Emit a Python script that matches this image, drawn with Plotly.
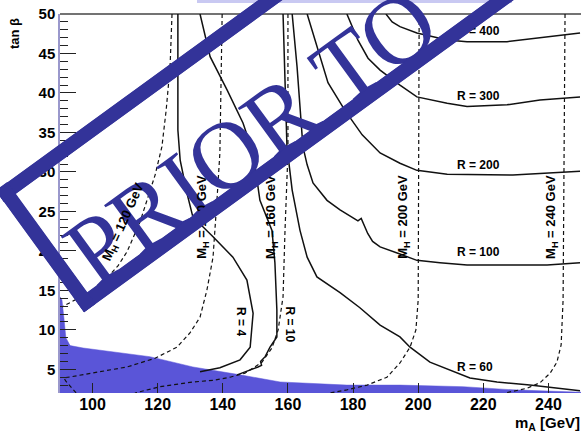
import math
import plotly.graph_objects as go

# ---------------------------------------------------------------- canvas
W, H = 583, 437
FRAME_L, FRAME_R, FRAME_T, FRAME_B = 60, 581, 14, 393   # plot frame on the page (px)

X_RANGE = [90, 250]
Y_RANGE = [2, 50]

# ---------------------------------------------------------------- data
# Excluded region (lower boundary of the allowed tan(beta) range)
excl_ma = [90.0, 90.6, 91.2, 91.8, 93.1, 97.1, 117.6, 130.8, 145.3, 157.6,
           178.1, 194.4, 213.8, 229.1, 250.0]
excl_tb = [14.2, 13.8, 11.5, 9.0, 8.0, 7.7, 6.6, 5.3, 4.3, 3.4,
           3.0, 3.0, 2.8, 2.4, 2.1]

# Contours of the ratio R
r4_ma = [126.2, 126.2, 126.9, 129.0, 130.8, 137.0, 143.1, 147.4, 149.3, 148.4, 145.3, 139.1, 133.0]
r4_tb = [50.0, 35.3, 31.5, 27.3, 24.3, 21.8, 19.2, 16.3, 12.1, 7.8, 6.2, 5.2, 4.7]

r10_ma = [133.0, 136.1, 141.3, 146.2, 149.3, 151.4, 155.1, 156.0, 156.6, 156.6, 154.5, 153.0, 151.6, 151.9, 150.8, 144.4]
r10_tb = [50.0, 44.6, 40.4, 36.2, 32.4, 26.4, 22.6, 18.5, 12.5, 9.1, 7.8, 6.6, 6.0, 5.5, 5.3, 4.3]

r60_ma = [158.5, 159.1, 159.7, 161.3, 163.7, 165.9, 168.9, 176.0, 182.1, 188.3, 194.4, 197.5, 203.6, 215.9, 224.2, 234.3, 249.7]
r60_tb = [50.0, 41.6, 33.2, 27.7, 22.6, 19.2, 16.7, 14.7, 12.8, 10.6, 9.1, 7.8, 5.9, 3.9, 3.4, 3.0, 2.3]

r100_ma = [161.3, 162.8, 164.6, 165.9, 167.7, 172.0, 176.0, 179.4, 181.5, 182.5, 183.2, 184.5, 186.0, 188.3, 194.4, 199.6, 206.7, 215.0, 239.6, 249.7]
r100_tb = [50.0, 43.3, 33.2, 30.9, 28.6, 26.4, 25.2, 24.3, 23.8, 24.1, 23.4, 22.2, 21.2, 20.5, 19.6, 18.8, 18.5, 18.2, 18.2, 18.5]

r200_ma = [165.9, 169.2, 172.3, 177.5, 182.8, 188.3, 194.4, 199.6, 208.9, 229.1, 239.6, 249.7]
r200_tb = [50.0, 45.4, 41.3, 37.8, 34.7, 32.4, 31.1, 30.2, 29.7, 29.6, 29.9, 30.1]

r300_ma = [178.1, 181.5, 184.6, 188.3, 194.4, 199.6, 208.9, 215.0, 227.3, 237.4, 249.7]
r300_tb = [50.0, 46.7, 44.4, 42.9, 41.0, 39.5, 38.7, 38.3, 38.5, 39.1, 39.5]

r400_ma = [190.1, 192.0, 194.4, 199.6, 208.9, 215.0, 227.3, 237.4, 249.7]
r400_tb = [50.0, 49.0, 48.4, 47.6, 46.7, 46.5, 46.5, 47.0, 47.6]

# Contours of the heavy Higgs mass M_H
mh120_ma = [124.4, 123.8, 122.6, 121.3, 119.2, 116.7, 114.6, 112.4, 110.6, 107.8, 103.8, 99.2, 94.6, 90.6]
mh120_tb = [50.0, 43.3, 37.8, 33.2, 29.6, 26.5, 23.7, 21.6, 19.9, 18.1, 16.3, 14.8, 13.8, 12.9]

mh140_ma = [139.8, 139.4, 139.1, 138.2, 137.0, 135.1, 133.0, 129.9, 125.9, 119.2, 110.6, 102.3, 97.1, 91.2, 91.8, 93.5, 95.0]
mh140_tb = [50.0, 39.1, 32.4, 26.4, 19.2, 15.0, 11.6, 9.6, 7.8, 6.4, 5.3, 4.7, 4.3, 3.9, 3.5, 2.7, 2.0]

mh160_ma = [160.0, 160.0, 159.1, 158.5, 157.0, 155.1, 152.0, 146.8, 142.2, 137.0, 130.8, 120.7, 113.0]
mh160_tb = [50.0, 32.4, 22.6, 14.2, 10.0, 7.7, 5.9, 4.5, 4.0, 3.6, 3.4, 2.8, 2.0]

mh200_ma = [200.3, 200.0, 199.3, 197.5, 194.4, 190.4, 184.3, 178.1, 172.9]
mh200_tb = [50.0, 13.8, 10.0, 7.8, 5.8, 4.0, 3.0, 2.4, 2.0]

mh240_ma = [245.1, 244.5, 243.9, 242.6, 240.5, 237.4, 233.4, 226.7]
mh240_tb = [50.0, 13.8, 8.1, 5.9, 4.5, 3.3, 2.6, 2.0]

# Contour labels: (text, m_A, tan beta, angle)
r_labels = [("R = 4", 145.6, 11.1, 90), ("R = 10", 160.6, 10.7, 90),
            ("R = 60", 217.5, 5.3, 0), ("R = 100", 218.4, 19.9, 0),
            ("R = 200", 218.4, 30.9, 0), ("R = 300", 218.4, 39.6, 0),
            ("R = 400", 218.4, 47.8, 0)]
mh_labels = [("M<sub>H</sub> = 120 GeV", 109.5, 23.6, -66),
             ("M<sub>H</sub> = 140 GeV", 133.9, 24.3, -90),
             ("M<sub>H</sub> = 160 GeV", 155.1, 24.3, -90),
             ("M<sub>H</sub> = 200 GeV", 195.6, 24.3, -90),
             ("M<sub>H</sub> = 240 GeV", 241.1, 24.3, -90)]

x_ticks = [100, 120, 140, 160, 180, 200, 220, 240]
y_ticks = [5, 10, 15, 20, 25, 30, 35, 40, 45, 50]

# ---------------------------------------------------------------- styles
FILL = "#5a55d8"
STAMP = "#333399"
BOLD = dict(family="Liberation Sans", color="black", weight="bold")


def paper(px, py):
    """Page pixel -> paper fraction (paper spans the whole page, no margins)."""
    return px / W, (H - py) / H


fig = go.Figure()

# excluded region, closed along the bottom of the axis range
fig.add_trace(go.Scatter(
    x=excl_ma + [X_RANGE[1], X_RANGE[0]],
    y=excl_tb + [Y_RANGE[0], Y_RANGE[0]],
    fill="toself", fillcolor=FILL, mode="lines",
    line=dict(color=FILL, width=0.5), hoverinfo="skip"))

for xs, ys in [(mh120_ma, mh120_tb), (mh140_ma, mh140_tb), (mh160_ma, mh160_tb),
               (mh200_ma, mh200_tb), (mh240_ma, mh240_tb)]:
    fig.add_trace(go.Scatter(x=xs, y=ys, mode="lines",
                             line=dict(color="#111", width=1.2, dash="4px,3px")))

for xs, ys in [(r4_ma, r4_tb), (r10_ma, r10_tb), (r60_ma, r60_tb), (r100_ma, r100_tb),
               (r200_ma, r200_tb), (r300_ma, r300_tb), (r400_ma, r400_tb)]:
    fig.add_trace(go.Scatter(x=xs, y=ys, mode="lines",
                             line=dict(color="#111", width=1.5)))

for text, xa, yb, ang in r_labels:
    fig.add_annotation(x=xa, y=yb, xref="x", yref="y", text=text, showarrow=False,
                       xanchor="center", yanchor="middle",
                       textangle=ang, font=dict(size=12, **BOLD))
for text, xa, yb, ang in mh_labels:
    fig.add_annotation(x=xa, y=yb, xref="x", yref="y", text=text, showarrow=False,
                       xanchor="center", yanchor="middle",
                       textangle=ang, font=dict(size=13, **BOLD))

# axis titles
tx, ty = paper(15, 34)
fig.add_annotation(x=tx, y=ty, xref="paper", yref="paper", text="tan \u03b2",
                   showarrow=False, textangle=-90, xanchor="center", yanchor="middle",
                   font=dict(size=13, **BOLD))
tx, ty = paper(547, 423)
fig.add_annotation(x=tx, y=ty, xref="paper", yref="paper", text="m<sub>A</sub> [GeV]",
                   showarrow=False, xanchor="center", yanchor="middle",
                   font=dict(size=15, **BOLD))

# ---------------------------------------------------------------- shapes
# frame top edge and pale band above the frame
fx0, fy_top = paper(FRAME_L, FRAME_T)
fx1, _ = paper(FRAME_R, FRAME_T)
bx0, by0 = paper(197, 0)
bx1, by1 = paper(512, 3)
shapes = [dict(type="line", xref="paper", yref="paper", x0=fx0, x1=fx1, y0=fy_top, y1=fy_top,
               line=dict(color="#444", width=1.5), layer="below"),
          dict(type="rect", xref="paper", yref="paper", x0=bx0, x1=bx1, y0=by1, y1=by0,
               fillcolor="#c9c9f2", line=dict(width=0), layer="below")]

# rotated stamp: wording plus a three-sided frame
ang = math.radians(36)
u = (math.cos(ang), -math.sin(ang))
n = (math.sin(ang), math.cos(ang))
stroke = 14
A0, A1 = -115.5, 480          # along the stamp
B0, B1 = 152, 302             # across the stamp (outer edges)


def stamp_px(a, b):
    return a * u[0] + b * n[0], a * u[1] + b * n[1]


def stamp_pt(a, b):
    return paper(*stamp_px(a, b))


cx, cy = 245, 128
half = 200
lx0, ly0 = paper(cx - half * u[0], cy - half * u[1])
lx1, ly1 = paper(cx + half * u[0], cy + half * u[1])
shapes.append(dict(type="line", xref="paper", yref="paper", x0=lx0, y0=ly0, x1=lx1, y1=ly1,
                   line=dict(color="rgba(0,0,0,0)", width=0), layer="above",
                   label=dict(text="PRIOR TO", textposition="middle", yanchor="middle",
                              font=dict(family="Liberation Serif", size=96, color=STAMP))))

# frame sides: (a0, b0, a1, b1) in the rotated frame
strips = [(A0, B0, 240, B0 + stroke),            # upper side
          (A0, B1 - stroke, 430, B1),            # lower side
          (A0, B0, A0 + stroke, B1)]             # left side
for sa0, sb0, sa1, sb1 in strips:
    pts = [stamp_pt(sa0, sb0), stamp_pt(sa1, sb0), stamp_pt(sa1, sb1), stamp_pt(sa0, sb1)]
    path = "M " + " L ".join(f"{px:.5f},{py:.5f}" for px, py in pts) + " Z"
    shapes.append(dict(type="path", xref="paper", yref="paper", path=path,
                       fillcolor=STAMP, line=dict(width=0), layer="above"))
    # the same side as a rotated filled box in the annotation layer
    mx, my = paper(*stamp_px((sa0 + sa1) / 2, (sb0 + sb1) / 2))
    fig.add_annotation(x=mx, y=my, xref="paper", yref="paper", text=" ",
                       showarrow=False, xanchor="center", yanchor="middle",
                       width=abs(sa1 - sa0), height=abs(sb1 - sb0), borderpad=0,
                       borderwidth=0, bgcolor=STAMP, textangle=-36,
                       font=dict(size=2, color=STAMP))

dom_x = [FRAME_L / W, FRAME_R / W]
dom_y = [(H - FRAME_B) / H, (H - FRAME_T) / H]

fig.update_layout(
    width=W, height=H, margin=dict(l=0, r=0, t=0, b=0, autoexpand=False),
    paper_bgcolor="white", plot_bgcolor="white", showlegend=False,
    shapes=shapes,
    xaxis=dict(domain=dom_x, range=X_RANGE, tickvals=x_ticks, ticks="inside", ticklen=10,
               tickwidth=1.2, tickcolor="#222", showgrid=False, zeroline=False,
               showline=False, tickfont=dict(size=16, **BOLD), anchor="y", automargin=False),
    yaxis=dict(domain=dom_y, range=Y_RANGE, tickvals=y_ticks, ticks="inside", ticklen=16,
               tickwidth=1.2, tickcolor="#222", showgrid=False, zeroline=False,
               showline=True, linecolor="#9a98cc", linewidth=1.5, anchor="x",
               automargin=False,
               minor=dict(dtick=1, tick0=0, ticks="inside", ticklen=8, tickcolor="#222"),
               tickfont=dict(size=15, **BOLD)),
)

fig.write_html("out.html")
